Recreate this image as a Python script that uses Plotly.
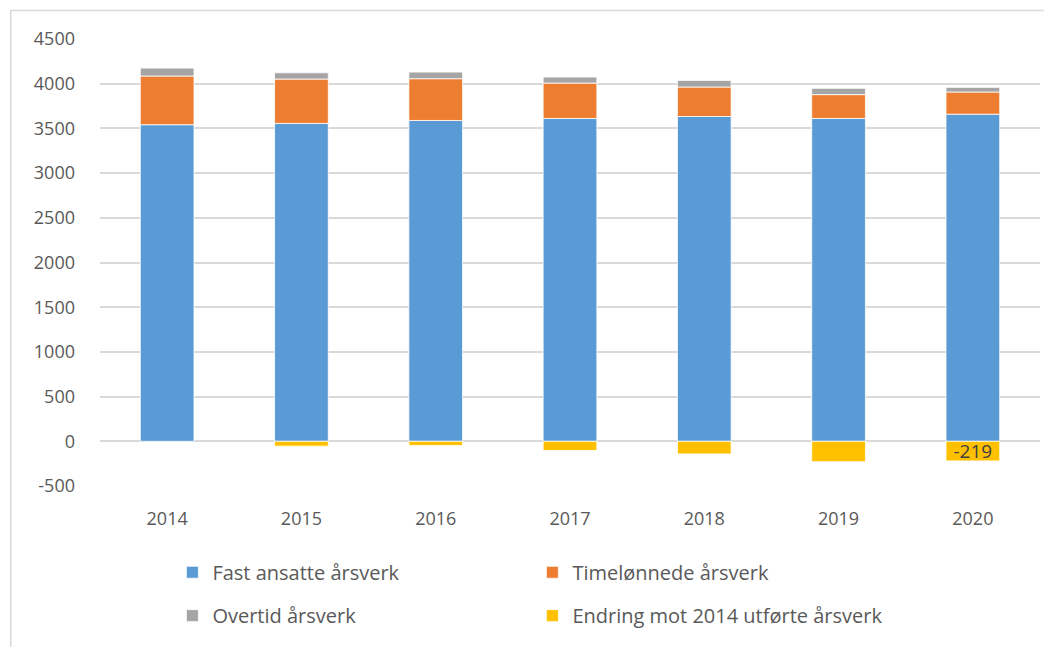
import plotly.graph_objects as go

# Data
years = ["2014", "2015", "2016", "2017", "2018", "2019", "2020"]
fast_ansatte = [3541, 3556, 3589, 3611, 3633, 3611, 3659]
timelonnede = [545, 496, 467, 396, 330, 267, 248]
overtid = [92, 70, 74, 67, 74, 70, 52]
endring = [0, -54, -46, -103, -141, -228, -219]

# y tick labels (the original uses a plain hyphen for negatives)
y_ticks = [-500, 0, 500, 1000, 1500, 2000, 2500, 3000, 3500, 4000, 4500]
y_tick_labels = [str(v) for v in y_ticks]

series = [
    ("Fast ansatte årsverk", fast_ansatte, "#5B9BD5", "legend"),
    ("Timelønnede årsverk", timelonnede, "#ED7D31", "legend"),
    ("Overtid årsverk", overtid, "#A5A5A5", "legend2"),
    ("Endring mot 2014 utførte årsverk", endring, "#FFC000", "legend2"),
]

FONT = "Open Sans, Liberation Sans, sans-serif"
TEXT_COLOR = "#595959"
GRID = "#D9D9D9"

fig = go.Figure()

for name, values, color, legend_id in series:
    labels = None
    if name.startswith("Endring"):
        # only the last bar carries a data label in the original
        labels = ["" if i < len(values) - 1 else str(v) for i, v in enumerate(values)]
    fig.add_trace(go.Bar(
        x=years,
        y=values,
        name=name,
        legend=legend_id,
        marker=dict(color=color, line=dict(color="white", width=0.8)),
        text=labels,
        textposition="inside" if labels else None,
        insidetextanchor="middle",
        constraintext="none",
        textfont=dict(size=19, color="#404040", family=FONT),
    ))

legend_style = dict(
    orientation="h",
    x=0.077,
    xanchor="left",
    yanchor="middle",
    entrywidth=315,
    entrywidthmode="pixels",
    font=dict(size=20, color=TEXT_COLOR),
    traceorder="normal",
    bgcolor="rgba(0,0,0,0)",
)

fig.update_layout(
    barmode="relative",
    bargap=0.6,
    width=1044,
    height=639,
    margin=dict(l=92, r=12, t=31, b=157),
    paper_bgcolor="white",
    plot_bgcolor="white",
    font=dict(family=FONT, size=18, color=TEXT_COLOR),
    legend=dict(legend_style, y=-0.193),
    legend2=dict(legend_style, y=-0.29),
    showlegend=True,
)

fig.update_xaxes(
    showgrid=False,
    showline=False,
    ticks="",
    ticklabelstandoff=20,
)
fig.update_yaxes(
    range=[-500, 4500],
    tickmode="array",
    tickvals=y_ticks,
    ticktext=y_tick_labels,
    showgrid=True,
    gridcolor=GRID,
    gridwidth=1.5,
    zeroline=True,
    zerolinecolor=GRID,
    zerolinewidth=1.5,
    showline=False,
    ticks="",
    ticklabelstandoff=24,
)

# chart-area border (top and left edges visible in the reference)
fig.add_shape(type="line", xref="paper", yref="paper",
              x0=-0.095, x1=1.02, y0=1.064, y1=1.064,
              line=dict(color=GRID, width=1.5))
fig.add_shape(type="line", xref="paper", yref="paper",
              x0=-0.095, x1=-0.095, y0=1.064, y1=-0.36,
              line=dict(color=GRID, width=1.5))

fig.write_html("out.html")
